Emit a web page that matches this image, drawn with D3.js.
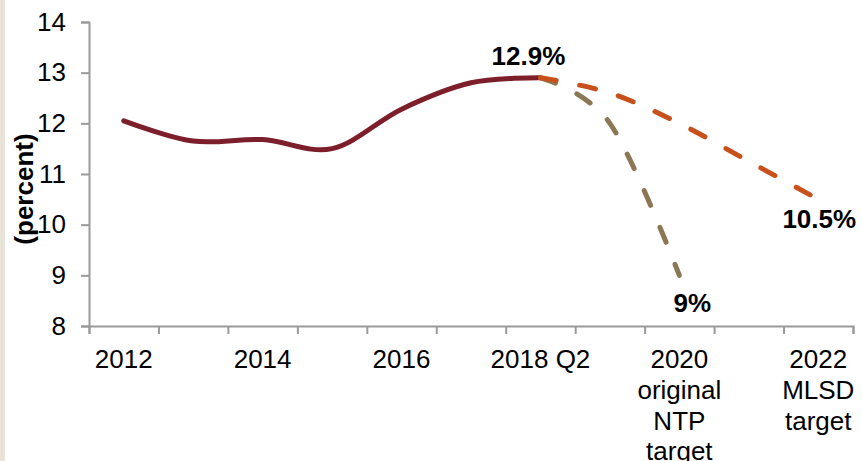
<!DOCTYPE html>
<html>
<head>
<meta charset="utf-8">
<script src="https://cdn.jsdelivr.net/npm/d3@7"></script>
<style>
  body { margin: 0; background: #fff; }
  svg { display: block; font-family: "Liberation Sans", Arial, sans-serif; }
</style>
</head>
<body>
<script>
// categories along the x axis (one per band)
const categories = ['2012', '2013', '2014', '2015', '2016', '2017', '2018 Q2', '2019', '2020', '2021', '2022'];
// tick labels shown under every other band
const tickLabels = ['2012', '', '2014', '', '2016', '', '2018 Q2', '', '2020\noriginal\nNTP\ntarget', '', '2022\nMLSD\ntarget'];
const yTicks = [8, 9, 10, 11, 12, 13, 14];

// unemployment rate, actual
const actual = [12.05, 11.65, 11.68, 11.5, 12.28, 12.8, 12.9];
// MLSD target path (2018 Q2 .. 2022)
const mlsd = [12.9, 12.6, 12.0, 11.25, 10.5];
// original NTP target path (2018 Q2 .. 2020)
const ntp = [12.9, 12.0, 9.0];

const width = 862,
  height = 461;

const svg = d3.select('body').append('svg').attr('width', width).attr('height', height);

// beige strip on the left edge
svg.append('rect').attr('x', 0).attr('y', 0).attr('width', 5).attr('height', height).attr('fill', '#e8e4d8');

const x = d3.scaleLinear().domain([0, categories.length]).range([89, 853]);
const y = d3.scaleLinear().domain([8, 14]).range([326, 22]);
const cx = (i) => x(i + 0.5);

// y axis
const yAxis = svg.append('g').attr('transform', `translate(${x(0)},0)`)
  .call(d3.axisLeft(y).tickValues(yTicks).tickFormat(d3.format('d')).tickSize(8).tickPadding(15));
// x axis, ticks between the categories
const xAxis = svg.append('g').attr('transform', `translate(0,${y(8)})`)
  .call(d3.axisBottom(x).tickValues(d3.range(categories.length + 1)).tickSize(8).tickFormat(''));

[yAxis, xAxis].forEach((g) => {
  g.select('.domain').attr('stroke', '#9a9a9a').attr('stroke-width', 2);
  g.selectAll('.tick line').attr('stroke', '#9a9a9a').attr('stroke-width', 2);
  g.selectAll('text').attr('font-size', 26).attr('fill', '#000').attr('font-family', null);
});

// category labels
tickLabels.forEach((lab, i) => {
  if (!lab) return;
  const t = svg.append('text').attr('x', cx(i)).attr('y', 368)
    .attr('text-anchor', 'middle').attr('font-size', 26).attr('fill', '#000');
  lab.split('\n').forEach((line, k) => {
    t.append('tspan').attr('x', cx(i)).attr('dy', k === 0 ? 0 : 30.8).text(line);
  });
});

// axis title
svg.append('text').attr('transform', 'translate(33,189) rotate(-90)')
  .attr('text-anchor', 'middle').attr('font-size', 26).attr('font-weight', 'bold').text('(percent)');

const line = d3.line().x((d) => cx(d.i)).y((d) => y(d.v)).curve(d3.curveCardinal.tension(0));
const startIdx = categories.indexOf('2018 Q2');

svg.append('path').datum(actual.map((v, i) => ({ i, v })))
  .attr('d', line).attr('fill', 'none').attr('stroke', '#7d1f2b')
  .attr('stroke-width', 5).attr('stroke-linecap', 'round');

svg.append('path').datum(ntp.map((v, k) => ({ i: startIdx + k, v })))
  .attr('d', line).attr('fill', 'none').attr('stroke', '#8c7755')
  .attr('stroke-width', 5).attr('stroke-linecap', 'round').attr('stroke-dasharray', '16,24');

svg.append('path').datum(mlsd.map((v, k) => ({ i: startIdx + k, v })))
  .attr('d', line).attr('fill', 'none').attr('stroke', '#c8511b')
  .attr('stroke-width', 5).attr('stroke-linecap', 'round').attr('stroke-dasharray', '16,24');

// data labels
const labels = [
  { i: startIdx, v: actual[actual.length - 1], dx: -12, dy: -13 },
  { i: startIdx + ntp.length - 1, v: ntp[ntp.length - 1], dx: 13, dy: 37 },
  { i: startIdx + mlsd.length - 1, v: mlsd[mlsd.length - 1], dx: 1, dy: 29 },
];
labels.forEach((d) => {
  svg.append('text').attr('x', cx(d.i) + d.dx).attr('y', y(d.v) + d.dy)
    .attr('text-anchor', 'middle').attr('font-size', 26).attr('font-weight', 'bold')
    .text(d3.format('')(d.v) + '%');
});
</script>
</body>
</html>
